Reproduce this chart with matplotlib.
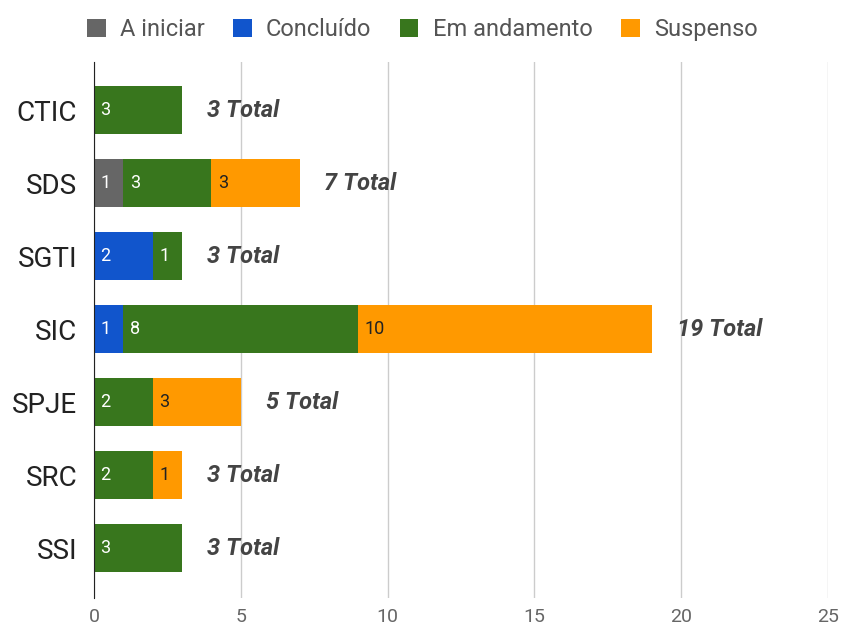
import matplotlib.pyplot as plt
import numpy as np

plt.rcParams['font.family'] = ['Roboto', 'DejaVu Sans']

categories = ["CTIC", "SDS", "SGTI", "SIC", "SPJE", "SRC", "SSI"]
series = ["A iniciar", "Concluído", "Em andamento", "Suspenso"]
a_iniciar = [0, 1, 0, 0, 0, 0, 0]
concluido = [0, 0, 2, 1, 0, 0, 0]
em_andamento = [3, 3, 1, 8, 2, 2, 3]
suspenso = [0, 3, 0, 10, 3, 1, 0]
colors = ["#666666", "#1155cc", "#38761d", "#ff9900"]
text_colors = ["white", "white", "white", "#222222"]

values = [a_iniciar, concluido, em_andamento, suspenso]

fig = plt.figure(figsize=(8.44, 6.27), dpi=100)
ax = fig.add_axes([94 / 844, 1 - 598 / 627, (828 - 94) / 844, (598 - 62) / 627])

y = np.arange(len(categories))
left = np.zeros(len(categories))
for name, vals, col, tcol in zip(series, values, colors, text_colors):
    vals = np.array(vals, dtype=float)
    ax.barh(y, vals, left=left, height=0.66, color=col, label=name, zorder=3)
    for i, v in enumerate(vals):
        if v > 0:
            ax.text(left[i] + 0.22, y[i], f"{int(v)}", color=tcol, fontsize=13,
                    va="center", ha="left", zorder=4)
    left += vals

for i, t in enumerate(left):
    ax.text(t + 0.85, y[i], f"{int(t)} Total", fontsize=17, fontweight="bold",
            fontstyle="italic", color="#444444", va="center", ha="left", zorder=4)

ax.set_xlim(0, 25)
ax.set_ylim(6.68, -0.66)
ax.set_xticks([0, 5, 10, 15, 20, 25])
ax.set_yticks(y)
ax.set_yticklabels(categories, fontsize=20, color="#222222")
ax.tick_params(axis="x", labelsize=14, labelcolor="#666666", length=0, pad=7)
ax.tick_params(axis="y", length=0, pad=12)
ax.grid(axis="x", color="#cccccc", linewidth=1, zorder=0)
for s in ["top", "right", "bottom"]:
    ax.spines[s].set_visible(False)
ax.spines["left"].set_color("#222222")
ax.spines["left"].set_zorder(5)

fig.legend(loc="upper center", bbox_to_anchor=(0.5, 1.005), ncol=4, frameon=False,
           fontsize=17, handlelength=0.8, handleheight=0.8, columnspacing=1.2,
           handletextpad=0.6, labelcolor="#555555")

fig.savefig("out.png", dpi=100)
